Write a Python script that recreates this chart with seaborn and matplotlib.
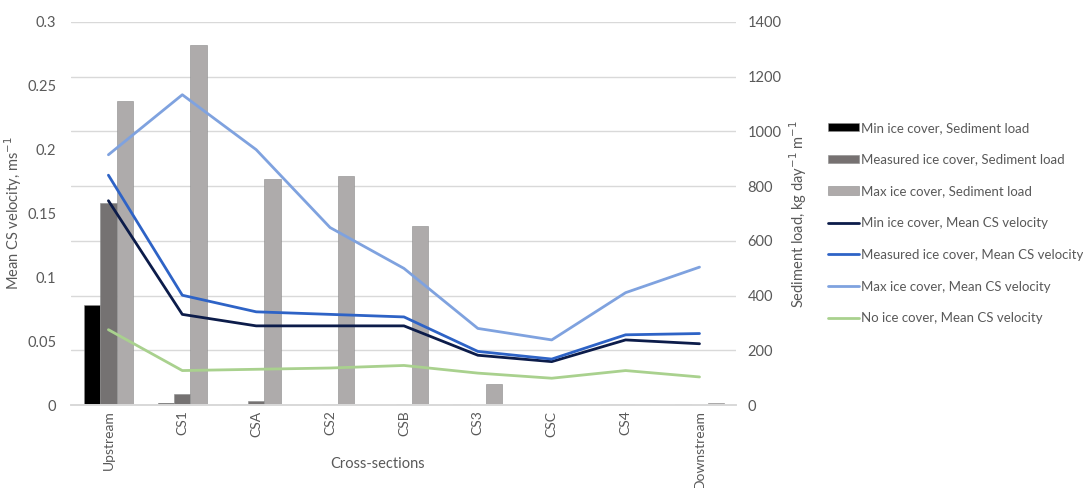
import numpy as np
import pandas as pd
import matplotlib
matplotlib.use("Agg")
import matplotlib.pyplot as plt
import seaborn as sns

sections = ["Upstream", "CS1", "CSA", "CS2", "CSB", "CS3", "CSC", "CS4", "Downstream"]

# sediment load, kg day-1 m-1 (right axis, bars)
sed_min = [365, 6, 2, 1, 1, 2, 0, 2, 2]
sed_measured = [740, 40, 15, 2, 2, 1, 0, 3, 1]
sed_max = [1112, 1315, 826, 838, 653, 77, 4, 4, 7]

# mean cross-section velocity, m s-1 (left axis, lines)
vel_min = [0.160, 0.071, 0.062, 0.062, 0.062, 0.039, 0.034, 0.051, 0.048]
vel_measured = [0.180, 0.086, 0.073, 0.071, 0.069, 0.042, 0.036, 0.055, 0.056]
vel_max = [0.196, 0.243, 0.200, 0.139, 0.107, 0.060, 0.051, 0.088, 0.108]
vel_none = [0.059, 0.027, 0.028, 0.029, 0.031, 0.025, 0.021, 0.027, 0.022]

bar_names = ["Min ice cover, Sediment load", "Measured ice cover, Sediment load",
             "Max ice cover, Sediment load"]
line_names = ["Min ice cover, Mean CS velocity", "Measured ice cover, Mean CS velocity",
              "Max ice cover, Mean CS velocity", "No ice cover, Mean CS velocity"]

bar_colors = ["#000000", "#767171", "#aeaaaa"]
line_colors = ["#0c1c4a", "#2e63c6", "#7fa2df", "#a9d18e"]

text_col = "#595959"

sns.set_theme(style="white")
plt.rcParams["font.family"] = ["Lato", "DejaVu Sans"]

bars = pd.DataFrame({
    "section": sections * 3,
    "series": np.repeat(bar_names, len(sections)),
    "load": sed_min + sed_measured + sed_max,
})
lines = pd.DataFrame({
    "section": sections * 4,
    "series": np.repeat(line_names, len(sections)),
    "vel": vel_min + vel_measured + vel_max + vel_none,
})

fig = plt.figure(figsize=(10.83, 4.88), dpi=100)
ax1 = fig.add_axes([0.066, 0.17, 0.614, 0.785])
ax2 = ax1.twinx()

# bars on the secondary axis, drawn behind the lines
sns.barplot(data=bars, x="section", y="load", hue="series", order=sections,
            hue_order=bar_names, palette=bar_colors, width=0.66, gap=0,
            edgecolor="#8c8c8c", linewidth=0.4, ax=ax2, legend=False)
sns.lineplot(data=lines, x="section", y="vel", hue="series", hue_order=line_names,
             palette=line_colors, linewidth=2.0, sort=False, ax=ax1, legend=False)

ax1.set_zorder(ax2.get_zorder() + 1)
ax1.patch.set_visible(False)

ax1.set_ylim(0, 0.3)
ax1.set_yticks(np.arange(0, 0.301, 0.05))
ax1.set_yticklabels(["0", "0.05", "0.1", "0.15", "0.2", "0.25", "0.3"])
ax2.set_ylim(0, 1400)
ax2.set_yticks(np.arange(0, 1401, 200))
ax1.set_xlim(-0.5, len(sections) - 0.5)
ax2.set_xlim(-0.5, len(sections) - 0.5)

ax2.yaxis.grid(True, color="#d9d9d9", linewidth=1)
ax2.set_axisbelow(True)

for ax in (ax1, ax2):
    for s in ("top", "left", "right"):
        ax.spines[s].set_visible(False)
    ax.spines["bottom"].set_color("#d9d9d9")
    ax.tick_params(length=0, labelsize=10.5, colors=text_col)

ax1.tick_params(axis="y", pad=11)
ax2.tick_params(axis="y", pad=8)
ax1.tick_params(axis="x", pad=4, labelsize=10)

ax1.set_xticks(range(len(sections)))
ax1.set_xticklabels(sections, rotation=90)
ax2.tick_params(axis="x", labelbottom=False)

ax1.set_ylabel("Mean CS velocity, ms$^{-1}$", color=text_col, fontsize=10.5)
ax2.set_ylabel("Sediment load, kg day$^{-1}$ m$^{-1}$", color=text_col, fontsize=10.5)
ax1.set_xlabel("Cross-sections", color=text_col, fontsize=10.5)
ax1.xaxis.set_label_coords(0.46, -0.135)
ax1.yaxis.set_label_coords(-0.072, 0.5)
ax2.set_xlabel("")

handles = [plt.Rectangle((0, 0), 1, 1, facecolor=c, edgecolor="#8c8c8c", linewidth=0.4)
           for c in bar_colors]
handles += [plt.Line2D([0], [0], color=c, linewidth=2.0) for c in line_colors]
leg = fig.legend(handles, bar_names + line_names, loc="upper left",
                 bbox_to_anchor=(0.754, 0.775), frameon=False, fontsize=9.5,
                 handlelength=2.3, handleheight=0.6, handletextpad=0.2,
                 labelspacing=1.5)
for t in leg.get_texts():
    t.set_color(text_col)

fig.savefig("out.png", dpi=100)
